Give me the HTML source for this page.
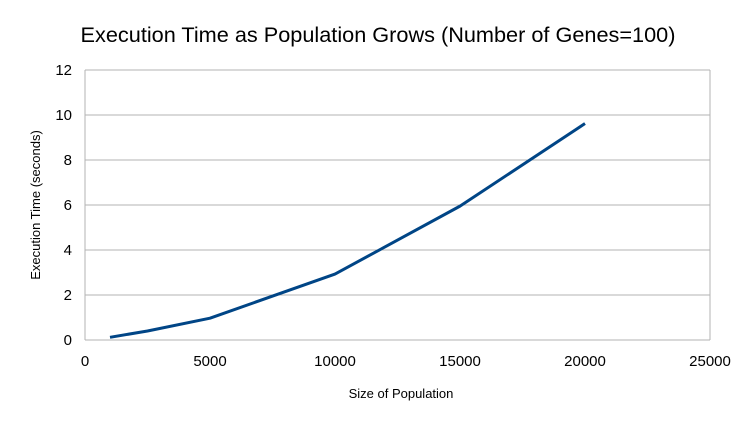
<!DOCTYPE html>
<html><head><meta charset="utf-8"><style>
body{margin:0;background:#fff;}
svg text{font-family:"Liberation Sans",sans-serif;fill:#000;}
</style></head><body>
<svg width="756" height="425" viewBox="0 0 756 425">
<rect width="756" height="425" fill="#fff"/>
<text x="378" y="42" font-size="21.7" text-anchor="middle">Execution Time as Population Grows (Number of Genes=100)</text>
<g id="grid"></g>
<g id="ticks"></g>
<text x="401" y="398" font-size="13" text-anchor="middle">Size of Population</text>
<text transform="translate(40,205) rotate(-90)" font-size="13" text-anchor="middle">Execution Time (seconds)</text>
<path id="line" fill="none" stroke="#004586" stroke-width="3" stroke-linejoin="round"/>
</svg>
<script>
const xValues=[1000,2500,5000,10000,15000,20000];
const yValues=[0.12,0.4,0.97,2.93,5.95,9.62];
const xTicks=[0,5000,10000,15000,20000,25000];
const yTicks=[0,2,4,6,8,10,12];
const X0=85,X1=710,Y0=340,Y1=70;
const sx=v=>X0+(v-0)/(25000)*(X1-X0);
const sy=v=>Y0-(v/12)*(Y0-Y1);
const ns="http://www.w3.org/2000/svg";
const grid=document.getElementById('grid'),ticks=document.getElementById('ticks');
yTicks.forEach(t=>{
 const l=document.createElementNS(ns,'line');
 l.setAttribute('x1',X0);l.setAttribute('x2',X1);l.setAttribute('y1',sy(t));l.setAttribute('y2',sy(t));
 l.setAttribute('stroke','#b3b3b3');l.setAttribute('stroke-width','1');
 
 
 grid.appendChild(l);
 const tx=document.createElementNS(ns,'text');
 tx.setAttribute('x',X0-13);tx.setAttribute('y',sy(t)+5);tx.setAttribute('font-size','15');tx.setAttribute('text-anchor','end');
 tx.textContent=t;
 
 
 ticks.appendChild(tx);
});
[X0,X1].forEach(x=>{
 const l=document.createElementNS(ns,'line');
 l.setAttribute('x1',x);l.setAttribute('x2',x);l.setAttribute('y1',Y1);l.setAttribute('y2',Y0);
 l.setAttribute('stroke','#b3b3b3');
 
 
 grid.appendChild(l);
});
xTicks.forEach(t=>{
 const tx=document.createElementNS(ns,'text');
 tx.setAttribute('x',sx(t));tx.setAttribute('y',Y0+26);tx.setAttribute('font-size','15');tx.setAttribute('text-anchor','middle');
 tx.textContent=t;
 
 
 ticks.appendChild(tx);
});
document.getElementById('line').setAttribute('d',xValues.map((x,i)=>(i?'L':'M')+sx(x)+','+sy(yValues[i])).join(' '));
</script>
</body></html>
